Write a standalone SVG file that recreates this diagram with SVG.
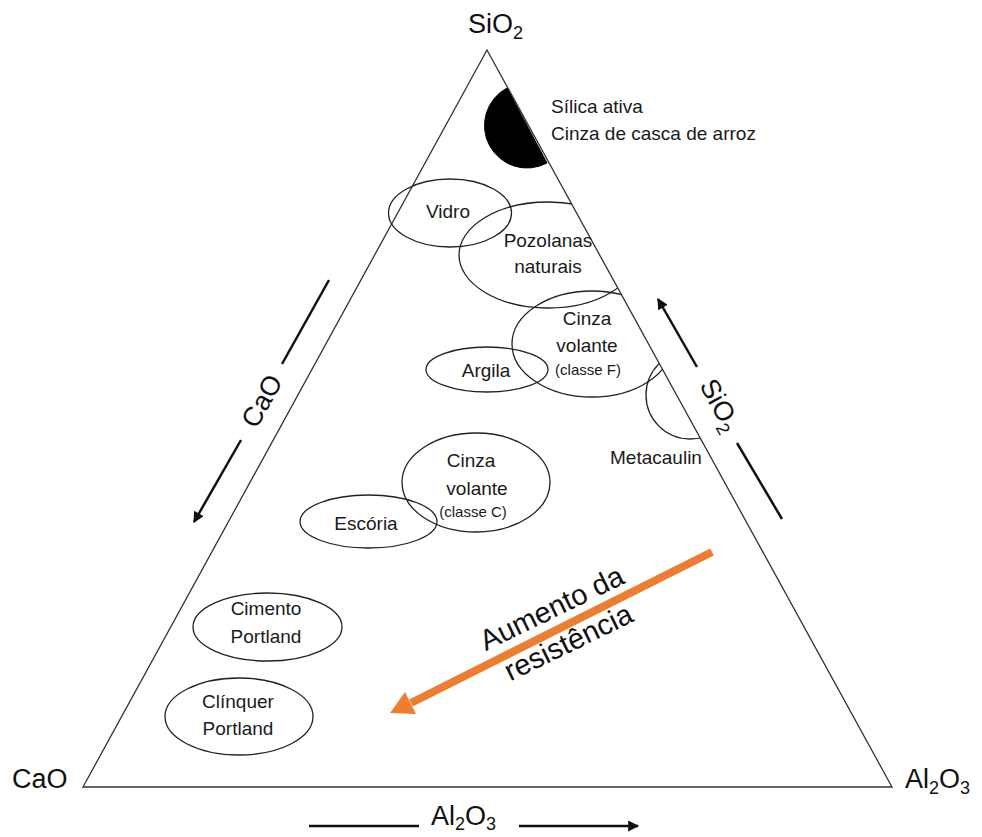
<svg xmlns="http://www.w3.org/2000/svg" width="982" height="837" viewBox="0 0 982 837">
<style>
.edge{fill:none;stroke:#333;stroke-width:1.3}
.ell{fill:none;stroke:#222;stroke-width:1.3}
.lbl{font-family:"Liberation Sans",Arial,sans-serif;font-size:19px;fill:#1a1a1a;text-anchor:middle}
.small{font-size:15px}
.big{font-family:"Liberation Sans",Arial,sans-serif;font-size:27px;fill:#111}
.sub{font-size:18px}
.ax{stroke:#111;stroke-width:2.5;fill:none}
</style>
<defs>
<clipPath id="tri"><polygon points="487,50 83,787 892,787"/></clipPath>
<marker id="ah" viewBox="0 0 10 10" refX="9" refY="5" markerWidth="5" markerHeight="4.4" orient="auto" markerUnits="strokeWidth"><path d="M0,0 L10,5 L0,10 z" fill="#111"/></marker>
</defs>
<rect width="982" height="837" fill="#fff"/>

<g id="triangle">
<polygon class="edge" points="487,50 83,787 892,787"/>
</g>

<g id="vertex-labels">
<text class="big" x="468" y="33">SiO<tspan class="sub" dy="6">2</tspan></text>
<text class="big" x="12" y="788">CaO</text>
<text class="big" x="905" y="788">Al<tspan class="sub" dy="6">2</tspan><tspan dy="-6">O</tspan><tspan class="sub" dy="6">3</tspan></text>
</g>

<g id="silica-ativa">
<path d="M507,88 A42.5,42.5 0 0 0 547,163 Z" fill="#000" stroke="#000" stroke-width="1"/>
<text class="lbl" style="text-anchor:start" x="551" y="113">Sílica ativa</text>
<text class="lbl" style="text-anchor:start" x="551" y="140">Cinza de casca de arroz</text>
</g>

<g id="vidro">
<ellipse class="ell" cx="450" cy="213" rx="61.5" ry="34"/>
<text class="lbl" x="448" y="218">Vidro</text>
</g>

<g id="pozolanas">
<ellipse class="ell" cx="548" cy="255" rx="89" ry="53" clip-path="url(#tri)"/>
<text class="lbl" x="548" y="247">Pozolanas</text>
<text class="lbl" x="548" y="273">naturais</text>
</g>

<g id="cinza-f">
<ellipse class="ell" cx="592" cy="344" rx="80" ry="53" clip-path="url(#tri)"/>
<text class="lbl" x="587" y="325">Cinza</text>
<text class="lbl" x="587" y="352">volante</text>
<text class="lbl small" x="588" y="375">(classe F)</text>
</g>

<g id="argila">
<ellipse class="ell" cx="487" cy="369.5" rx="61" ry="22.5"/>
<text class="lbl" x="486" y="377">Argila</text>
</g>

<g id="metacaulin">
<circle class="ell" cx="690" cy="395" r="44" clip-path="url(#tri)"/>
<text class="lbl" x="656" y="464">Metacaulin</text>
</g>

<g id="cinza-c">
<ellipse class="ell" cx="476" cy="482.5" rx="74" ry="49.5"/>
<text class="lbl" x="471" y="467">Cinza</text>
<text class="lbl" x="477" y="495">volante</text>
<text class="lbl small" x="473" y="517">(classe C)</text>
</g>

<g id="escoria">
<ellipse class="ell" cx="368.5" cy="521.5" rx="68.5" ry="26.5"/>
<text class="lbl" x="366" y="530">Escória</text>
</g>

<g id="cimento">
<ellipse class="ell" cx="267.5" cy="627" rx="74.5" ry="34"/>
<text class="lbl" x="266" y="615">Cimento</text>
<text class="lbl" x="266" y="643">Portland</text>
</g>

<g id="clinquer">
<ellipse class="ell" cx="239" cy="716.5" rx="74" ry="38.5"/>
<text class="lbl" x="238" y="708">Clínquer</text>
<text class="lbl" x="238" y="735">Portland</text>
</g>

<g id="connectors">
<line class="ax" x1="329" y1="280" x2="282" y2="364"/>
<line class="ax" x1="241" y1="440" x2="194" y2="522" marker-end="url(#ah)"/>
<line class="ax" x1="697" y1="367" x2="658" y2="299" marker-end="url(#ah)"/>
<line class="ax" x1="737" y1="443" x2="782" y2="519"/>
<line class="ax" x1="309" y1="826" x2="419" y2="826"/>
<line class="ax" x1="519" y1="826" x2="638" y2="826" marker-end="url(#ah)"/>
<line x1="712" y1="552" x2="411" y2="703" stroke="#ED7D31" stroke-width="8"/>
<polygon points="390,713 405,692 416,714" fill="#ED7D31"/>
</g>

<g id="axis-labels">
<text class="big" text-anchor="middle" transform="translate(262,401) rotate(-61.3)" y="9">CaO</text>
<text class="big" text-anchor="middle" transform="translate(720,405) rotate(61.3)" y="9">SiO<tspan class="sub" dy="6">2</tspan></text>
<text class="big" x="431" y="825">Al<tspan class="sub" dy="5">2</tspan><tspan dy="-5">O</tspan><tspan class="sub" dy="5">3</tspan></text>
<text class="big" style="font-size:29px" text-anchor="middle" transform="translate(556,617) rotate(-26)">Aumento da<tspan x="0" dy="38">resistência</tspan></text>
</g>
</svg>
